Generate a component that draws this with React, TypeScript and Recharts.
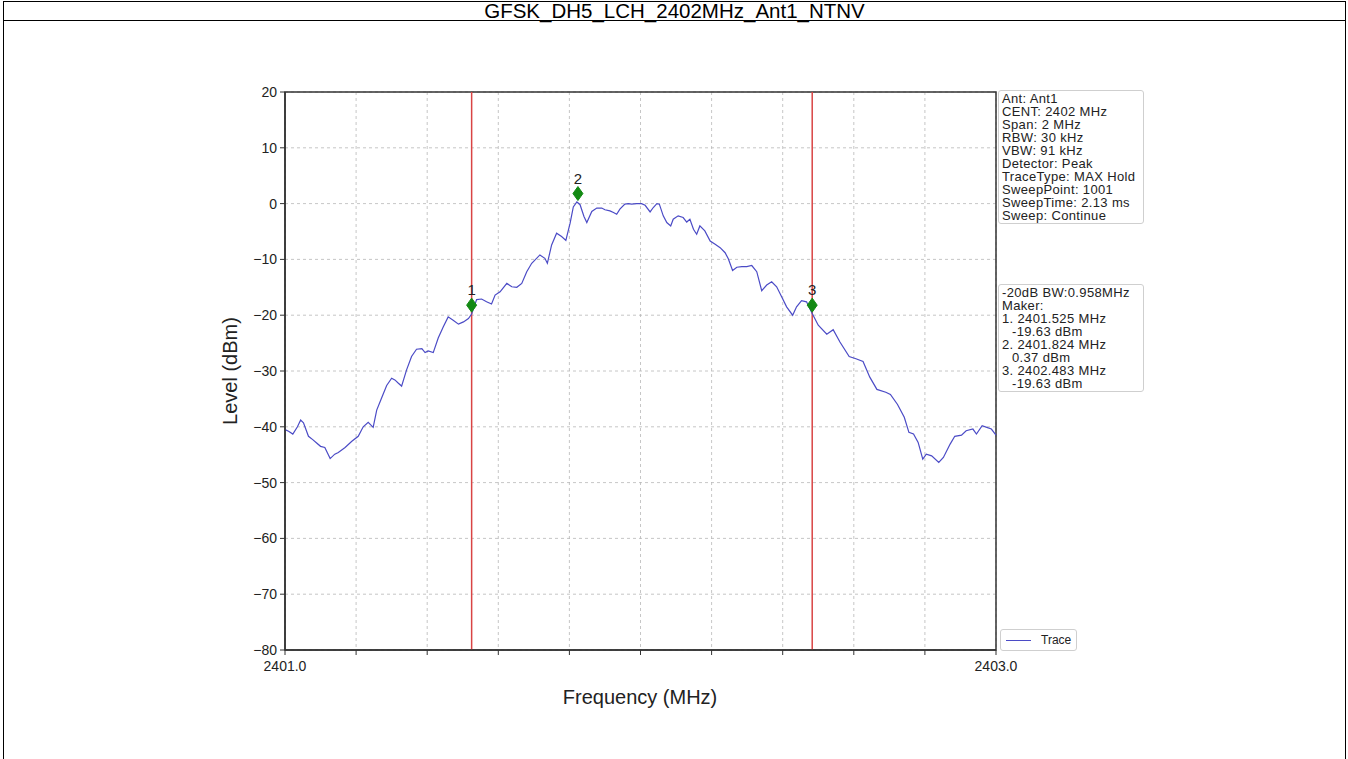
import React from "react"
import {
  ComposedChart,
  Line,
  XAxis,
  YAxis,
  CartesianGrid,
  ReferenceLine,
  ReferenceDot,
  ReferenceArea,
  Legend,
} from "recharts"

// spectrum trace (MHz, dBm)
const traceFreq = [
  2401.0, 2401.01, 2401.022, 2401.035, 2401.044, 2401.052, 2401.066, 2401.078, 2401.089, 2401.1,
  2401.112, 2401.127, 2401.14, 2401.15, 2401.169, 2401.188, 2401.206, 2401.22, 2401.234, 2401.248,
  2401.258, 2401.272, 2401.286, 2401.3, 2401.309, 2401.319, 2401.328, 2401.342, 2401.356, 2401.37,
  2401.385, 2401.394, 2401.403, 2401.417, 2401.431, 2401.445, 2401.459, 2401.473, 2401.488, 2401.502,
  2401.516, 2401.525, 2401.539, 2401.553, 2401.567, 2401.581, 2401.591, 2401.605, 2401.624, 2401.638,
  2401.652, 2401.666, 2401.68, 2401.694, 2401.717, 2401.731, 2401.738, 2401.75, 2401.764, 2401.778,
  2401.79, 2401.802, 2401.811, 2401.821, 2401.83, 2401.841, 2401.849, 2401.863, 2401.877, 2401.891,
  2401.9, 2401.914, 2401.924, 2401.933, 2401.942, 2401.956, 2401.966, 2401.975, 2401.989, 2402.003,
  2402.013, 2402.027, 2402.036, 2402.046, 2402.053, 2402.064, 2402.074, 2402.085, 2402.092, 2402.106,
  2402.12, 2402.13, 2402.139, 2402.149, 2402.158, 2402.167, 2402.181, 2402.196, 2402.21, 2402.224,
  2402.238, 2402.247, 2402.259, 2402.271, 2402.285, 2402.299, 2402.313, 2402.327, 2402.341, 2402.355,
  2402.369, 2402.383, 2402.397, 2402.411, 2402.428, 2402.439, 2402.453, 2402.467, 2402.483, 2402.5,
  2402.524, 2402.542, 2402.561, 2402.587, 2402.606, 2402.626, 2402.645, 2402.665, 2402.69, 2402.703,
  2402.723, 2402.742, 2402.755, 2402.768, 2402.781, 2402.794, 2402.804, 2402.819, 2402.839, 2402.852,
  2402.871, 2402.884, 2402.903, 2402.916, 2402.935, 2402.945, 2402.961, 2402.974, 2402.987, 2403.0,
]
const traceLevel = [
  -40.5, -40.8, -41.3, -40.0, -38.8, -39.3, -41.7, -42.3, -42.9, -43.5,
  -43.7, -45.7, -44.9, -44.6, -43.7, -42.6, -41.7, -40.0, -39.2, -40.1,
  -37.0, -34.8, -32.6, -31.3, -31.6, -32.2, -32.7, -29.8, -27.4, -26.1,
  -26.0, -26.7, -26.4, -26.7, -24.1, -22.1, -20.3, -20.9, -21.6, -21.2,
  -20.6, -19.8, -17.2, -17.1, -17.6, -18.0, -16.4, -15.8, -14.3, -14.9,
  -15.0, -14.3, -12.2, -10.7, -9.2, -9.8, -10.7, -7.4, -5.3, -5.9,
  -6.6, -3.5, -0.6, 0.3, -0.2, -2.3, -3.4, -1.4, -0.8, -0.8,
  -1.1, -1.3, -1.6, -1.9, -1.0, -0.1, 0.0, -0.1, 0.0, 0.0,
  -0.3, -1.5, -0.7, 0.0, -0.1, -2.2, -3.4, -4.0, -2.8, -2.2,
  -2.5, -3.3, -2.8, -4.6, -5.5, -4.0, -4.9, -6.7, -7.3, -7.9,
  -8.8, -9.9, -12.0, -11.4, -11.3, -11.3, -11.1, -12.2, -15.6, -14.6,
  -14.0, -14.9, -16.7, -18.5, -20.0, -18.5, -17.4, -17.6, -19.7, -21.8,
  -23.4, -22.6, -24.8, -27.4, -27.8, -28.3, -31.1, -33.3, -33.8, -34.2,
  -36.0, -38.3, -41.0, -41.3, -42.8, -45.8, -44.9, -45.2, -46.4, -45.5,
  -43.1, -41.7, -41.5, -40.7, -40.4, -41.3, -39.8, -40.1, -40.4, -41.5,
]

const markerFreq = [2401.525, 2401.824, 2402.483]
const markerLevel = [-19.63, 0.37, -19.63]
const markerName = ["1", "2", "3"]
const bwEdges = [2401.525, 2402.483]

const freqTicks = [2401.0, 2401.2, 2401.4, 2401.6, 2401.8, 2402.0, 2402.2, 2402.4, 2402.6, 2402.8, 2403.0]
const freqLabels = [2401.0, 2403.0]
const levelTicks = [-80, -70, -60, -50, -40, -30, -20, -10, 0, 10, 20]

const title = "GFSK_DH5_LCH_2402MHz_Ant1_NTNV"
const settingsLines = [
  "Ant: Ant1",
  "CENT: 2402 MHz",
  "Span: 2 MHz",
  "RBW: 30 kHz",
  "VBW: 91 kHz",
  "Detector: Peak",
  "TraceType: MAX Hold",
  "SweepPoint: 1001",
  "SweepTime: 2.13 ms",
  "Sweep: Continue",
]
const bwLine = "-20dB BW:0.958MHz"

const FONT = "'Liberation Sans', Arial, Helvetica, sans-serif"
const TRACE = "#4b4bc6"
const RED = "#d94444"
const GREEN = "#138a13"
const INK = "#222"

const traceData = traceFreq.map((f, i) => ({ f, level: traceLevel[i] }))

// matplotlib style minus sign
const fmtLevel = (v: number) => (v < 0 ? `\u2212${Math.abs(v)}` : `${v}`)

const boxStyle: React.CSSProperties = {
  position: "absolute",
  left: 998,
  width: 141,
  border: "1px solid #cfcfcf",
  borderRadius: 3,
  background: "#fff",
  padding: "1px 0 1px 3px",
  fontFamily: FONT,
  fontSize: 13,
  lineHeight: "13px",
  letterSpacing: "0.35px",
  color: INK,
  whiteSpace: "nowrap",
  boxSizing: "content-box",
}

function MarkerShape(props: any) {
  const { cx, cy, name } = props
  const y = cy - 8
  return (
    <g>
      <polygon
        points={`${cx},${y - 7} ${cx + 5},${y} ${cx},${y + 7} ${cx - 5},${y}`}
        fill={GREEN}
        stroke={GREEN}
      />
      <text x={cx} y={y - 10} textAnchor="middle" fontSize={15} fill={INK} fontFamily={FONT}>
        {name}
      </text>
    </g>
  )
}

function TraceLegend(props: any) {
  const { payload } = props
  return (
    <div
      style={{
        border: "1px solid #cfcfcf",
        borderRadius: 3,
        background: "#fff",
        padding: "3px 5px 3px 5px",
        display: "flex",
        alignItems: "center",
        fontFamily: FONT,
        fontSize: 12,
        color: INK,
      }}
    >
      {(payload || []).map((p: any) => (
        <React.Fragment key={p.value}>
          <span style={{ display: "inline-block", width: 25, height: 0, borderTop: `1.5px solid ${TRACE}`, marginRight: 10 }} />
          <span>{p.value}</span>
        </React.Fragment>
      ))}
    </div>
  )
}

export default function App() {
  return (
    <div style={{ position: "absolute", left: 0, top: 0, width: 1348, height: 759, overflow: "hidden", background: "#fff" }}>
      {/* report frame with the title row */}
      <div
        style={{
          position: "absolute",
          left: 3,
          top: 1,
          width: 1341,
          height: 800,
          border: "1px solid #000",
        }}
      >
        <div
          style={{
            height: 18,
            borderBottom: "1px solid #000",
            textAlign: "center",
            fontFamily: FONT,
            fontSize: 20.5,
            lineHeight: "18px",
            color: "#000",
          }}
        >
          {title}
        </div>
      </div>

      <div style={{ position: "absolute", left: 0, top: 0 }}>
        <ComposedChart
          width={1348}
          height={759}
          data={traceData}
          margin={{ top: 92, right: 352, bottom: 79, left: 225 }}
        >
          <ReferenceArea x1={2401} x2={2403} y1={-80} y2={20} fill="none" stroke="#333" strokeWidth={1.5} />
          <CartesianGrid stroke="#b8b8b8" strokeDasharray="3 3" strokeWidth={0.8} />
          <XAxis
            dataKey="f"
            type="number"
            domain={[2401, 2403]}
            ticks={freqTicks}
            interval={0}
            height={30}
            tickSize={5}
            tickMargin={6}
            axisLine={{ stroke: "#333", strokeWidth: 1.5 }}
            tickLine={{ stroke: "#333" }}
            tick={{ fill: INK, fontSize: 14, fontFamily: FONT }}
            tickFormatter={(v: number) => (freqLabels.includes(v) ? v.toFixed(1) : "")}
          />
          <YAxis
            type="number"
            domain={[-80, 20]}
            ticks={levelTicks}
            interval={0}
            width={60}
            tickSize={5}
            tickMargin={3}
            axisLine={{ stroke: "#333", strokeWidth: 1.5 }}
            tickLine={{ stroke: "#333" }}
            tick={{ fill: INK, fontSize: 14, fontFamily: FONT }}
            tickFormatter={fmtLevel}
          />
          {bwEdges.map((f) => (
            <ReferenceLine key={f} x={f} stroke={RED} strokeWidth={1.5} />
          ))}
          <Line
            dataKey="level"
            name="Trace"
            type="linear"
            stroke={TRACE}
            strokeWidth={1.2}
            dot={false}
            isAnimationActive={false}
          />
          {markerFreq.map((f, i) => (
            <ReferenceDot
              key={markerName[i]}
              x={f}
              y={markerLevel[i]}
              r={5}
              shape={(p: any) => <MarkerShape {...p} name={markerName[i]} />}
            />
          ))}
          <Legend
            layout="horizontal"
            verticalAlign="middle"
            align="center"
            content={<TraceLegend />}
            wrapperStyle={{ left: 1000, top: 629, width: "auto" }}
          />
        </ComposedChart>
      </div>

      {/* axis titles */}
      <div
        style={{
          position: "absolute",
          left: 230,
          top: 371,
          transform: "translate(-50%, -50%) rotate(-90deg)",
          fontFamily: FONT,
          fontSize: 20,
          color: INK,
          whiteSpace: "nowrap",
        }}
      >
        Level (dBm)
      </div>
      <div
        style={{
          position: "absolute",
          left: 640,
          top: 697,
          transform: "translate(-50%, -50%)",
          fontFamily: FONT,
          fontSize: 20,
          color: INK,
          whiteSpace: "nowrap",
        }}
      >
        Frequency (MHz)
      </div>

      {/* analyzer settings */}
      <div style={{ ...boxStyle, top: 90 }}>
        {settingsLines.map((s) => (
          <div key={s}>{s}</div>
        ))}
      </div>

      {/* occupied bandwidth and markers */}
      <div style={{ ...boxStyle, top: 284 }}>
        <div>{bwLine}</div>
        <div>Maker:</div>
        {markerFreq.map((f, i) => (
          <React.Fragment key={markerName[i]}>
            <div>{`${markerName[i]}. ${f.toFixed(3)} MHz`}</div>
            <div style={{ paddingLeft: 10 }}>{`${markerLevel[i].toFixed(2)} dBm`}</div>
          </React.Fragment>
        ))}
      </div>
    </div>
  )
}
